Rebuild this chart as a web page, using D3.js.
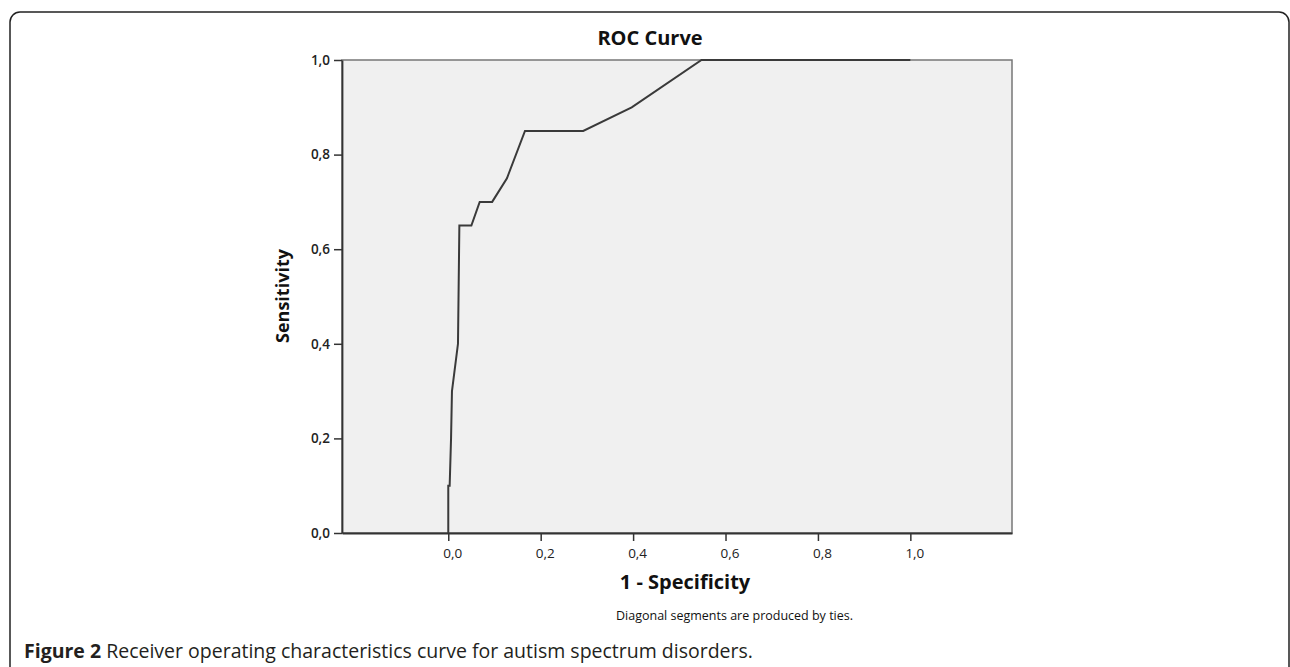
<!DOCTYPE html>
<html>
<head>
<meta charset="utf-8">
<script src="https://cdn.jsdelivr.net/npm/d3@7"></script>
<style>
  body { margin: 0; background: #fff; }
  svg { display: block; }
</style>
</head>
<body>
<svg id="chart"></svg>
<script>
// ROC curve points
const fpr = [0, 0, 0.003, 0.006, 0.008, 0.021, 0.024, 0.05, 0.068, 0.095, 0.127, 0.166, 0.292, 0.397, 0.548, 1.0];
const tpr = [0, 0.1, 0.1, 0.2, 0.3, 0.4, 0.65, 0.65, 0.7, 0.7, 0.75, 0.85, 0.85, 0.9, 1.0, 1.0];
const xTicks = [0, 0.2, 0.4, 0.6, 0.8, 1.0];
const yTicks = [0, 0.2, 0.4, 0.6, 0.8, 1.0];

const w = 1290, h = 667;
const svg = d3.select("#chart").attr("width", w).attr("height", h);

// comma decimal like the SPSS output
const locale = d3.formatLocale({ decimal: ",", thousands: ".", grouping: [3], currency: ["", ""] });
const fmt = locale.format(".1f");

// outer figure frame
svg.append("rect")
  .attr("x", 10).attr("y", 12)
  .attr("width", 1279).attr("height", 720)
  .attr("rx", 10)
  .attr("fill", "none")
  .attr("stroke", "#222")
  .attr("stroke-width", 1.5);

const xScale = d3.scaleLinear().domain([-0.23, 1.22]).range([342, 1012]);
const yScale = d3.scaleLinear().domain([0, 1]).range([533, 60]);

// plot background
svg.append("rect")
  .attr("x", xScale(-0.23)).attr("y", yScale(1))
  .attr("width", xScale(1.22) - xScale(-0.23))
  .attr("height", yScale(0) - yScale(1))
  .attr("fill", "#f0f0f0")
  .attr("stroke", "#777")
  .attr("stroke-width", 1.5);

// axes
const xAxis = d3.axisBottom(xScale).tickValues(xTicks).tickFormat(fmt).tickSize(8).tickSizeOuter(0);
const yAxis = d3.axisLeft(yScale).tickValues(yTicks).tickFormat(fmt).tickSize(8).tickSizeOuter(0);

const gx = svg.append("g").attr("transform", "translate(0,533)").call(xAxis);
const gy = svg.append("g").attr("transform", "translate(342,0)").call(yAxis);

[gx, gy].forEach(g => {
  g.select(".domain").attr("stroke", "#333").attr("stroke-width", 1.8);
  g.selectAll(".tick line").attr("stroke", "#333").attr("stroke-width", 1.5);
  g.selectAll(".tick text")
    .attr("fill", "#222")
    .style("font-family", "'Open Sans', sans-serif")
    .style("font-size", "13.5px");
});
gx.selectAll(".tick text").attr("dy", "1.05em").attr("dx", "4px");
gy.selectAll(".tick text").style("font-weight", "600").attr("dx", "-1px");

// curve
const pts = fpr.map((f, i) => [f, tpr[i]]);
const line = d3.line().x(d => xScale(d[0])).y(d => yScale(d[1]));
svg.append("path")
  .datum(pts)
  .attr("d", line)
  .attr("fill", "none")
  .attr("stroke", "#3a3a3a")
  .attr("stroke-width", 2)
  .attr("stroke-linejoin", "miter");

// texts
svg.append("text")
  .attr("x", 650).attr("y", 45)
  .attr("text-anchor", "middle")
  .style("font-family", "'Open Sans', sans-serif")
  .style("font-weight", "bold")
  .style("font-size", "20px")
  .attr("fill", "#111")
  .text("ROC Curve");

svg.append("text")
  .attr("transform", "translate(289,296) rotate(-90)")
  .attr("text-anchor", "middle")
  .style("font-family", "'Open Sans', sans-serif")
  .style("font-weight", "bold")
  .style("font-size", "18px")
  .attr("fill", "#111")
  .text("Sensitivity");

svg.append("text")
  .attr("x", 685).attr("y", 589)
  .attr("text-anchor", "middle")
  .style("font-family", "'Open Sans', sans-serif")
  .style("font-weight", "bold")
  .style("font-size", "20px")
  .attr("fill", "#111")
  .text("1 - Specificity");

svg.append("text")
  .attr("x", 853).attr("y", 620)
  .attr("text-anchor", "end")
  .style("font-family", "'Open Sans', sans-serif")
  .style("font-size", "12.5px")
  .attr("fill", "#111")
  .text("Diagonal segments are produced by ties.");

const cap = svg.append("text")
  .attr("x", 24).attr("y", 658)
  .style("font-family", "'Open Sans', sans-serif")
  .style("font-size", "19.5px")
  .attr("fill", "#231f20");
cap.append("tspan").style("font-weight", "bold").text("Figure 2");
cap.append("tspan").text(" Receiver operating characteristics curve for autism spectrum disorders.");
</script>
</body>
</html>
